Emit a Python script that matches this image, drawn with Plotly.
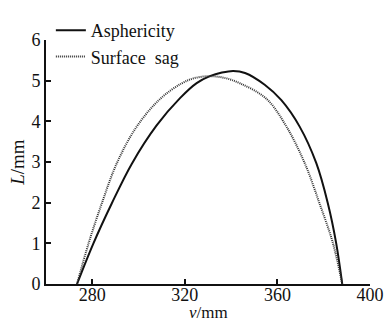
import plotly.graph_objects as go

# Asphericity curve (solid)
asph_x = [273.4, 280.5, 288.4, 297.1, 307.8, 317.9, 325.1, 330.8, 336.0, 340.9,
          346.0, 354.5, 361.7, 369.6, 376.8, 381.8, 385.4, 388.0]
asph_y = [0.0, 1.0, 1.98, 2.96, 3.90, 4.57, 4.94, 5.11, 5.20, 5.24,
          5.19, 4.90, 4.52, 3.87, 2.97, 1.98, 1.0, 0.0]

# Surface sag curve (dotted)
sag_x = [273.4, 278.4, 284.1, 290.6, 299.2, 309.3, 318.5, 324.0, 330.5, 337.0,
         344.0, 355.3, 363.9, 371.8, 378.2, 384.0, 388.0]
sag_y = [0.0, 1.0, 1.98, 2.97, 3.87, 4.55, 4.93, 5.06, 5.11, 5.07,
         4.93, 4.55, 3.87, 2.97, 1.98, 1.0, 0.0]

x_ticks = [280, 320, 360, 400]
y_ticks = [0, 1, 2, 3, 4, 5, 6]

FONT = "Liberation Serif"

fig = go.Figure()
fig.add_trace(go.Scatter(x=asph_x, y=asph_y, mode="lines", name="Asphericity",
                         line=dict(color="#111111", width=2, shape="spline", smoothing=1.0)))
fig.add_trace(go.Scatter(x=sag_x, y=sag_y, mode="lines", name="Surface  sag",
                         line=dict(color="#333333", width=2, shape="spline", smoothing=1.0,
                                   dash="1px,1px")))

fig.update_layout(
    width=386, height=325,
    margin=dict(l=46, r=16, t=19, b=41),
    paper_bgcolor="white", plot_bgcolor="white",
    font=dict(family=FONT, color="#111111", size=18),
    showlegend=True,
    legend=dict(x=0.015, y=1.115, xanchor="left", yanchor="top",
                bgcolor="rgba(0,0,0,0)", font=dict(size=18, family=FONT),
                itemwidth=30, tracegroupgap=0),
    xaxis=dict(range=[260, 400], tickvals=x_ticks, ticks="inside", ticklen=5,
               tickwidth=1.5, tickcolor="#111111", showgrid=False, zeroline=False,
               showline=True, linecolor="#111111", linewidth=2, automargin=False,
               ticklabelstandoff=-7,
               tickfont=dict(size=18, family=FONT)),
    yaxis=dict(range=[0, 6], tickvals=y_ticks, ticks="inside", ticklen=5,
               tickwidth=1.5, tickcolor="#111111", showgrid=False, zeroline=False,
               showline=True, linecolor="#111111", linewidth=2, automargin=False,
               tickfont=dict(size=18, family=FONT)),
    annotations=[
        dict(text="<i>v</i>/mm", xref="paper", yref="paper", x=0.5, y=-0.118,
             xanchor="center", yanchor="middle", showarrow=False,
             font=dict(size=17, family=FONT, color="#111111")),
        dict(text="<i>L</i>/mm", xref="paper", yref="paper", x=-0.09, y=0.5,
             xanchor="center", yanchor="middle", showarrow=False, textangle=-90,
             font=dict(size=19, family=FONT, color="#111111")),
    ],
)

fig.write_html("out.html")
